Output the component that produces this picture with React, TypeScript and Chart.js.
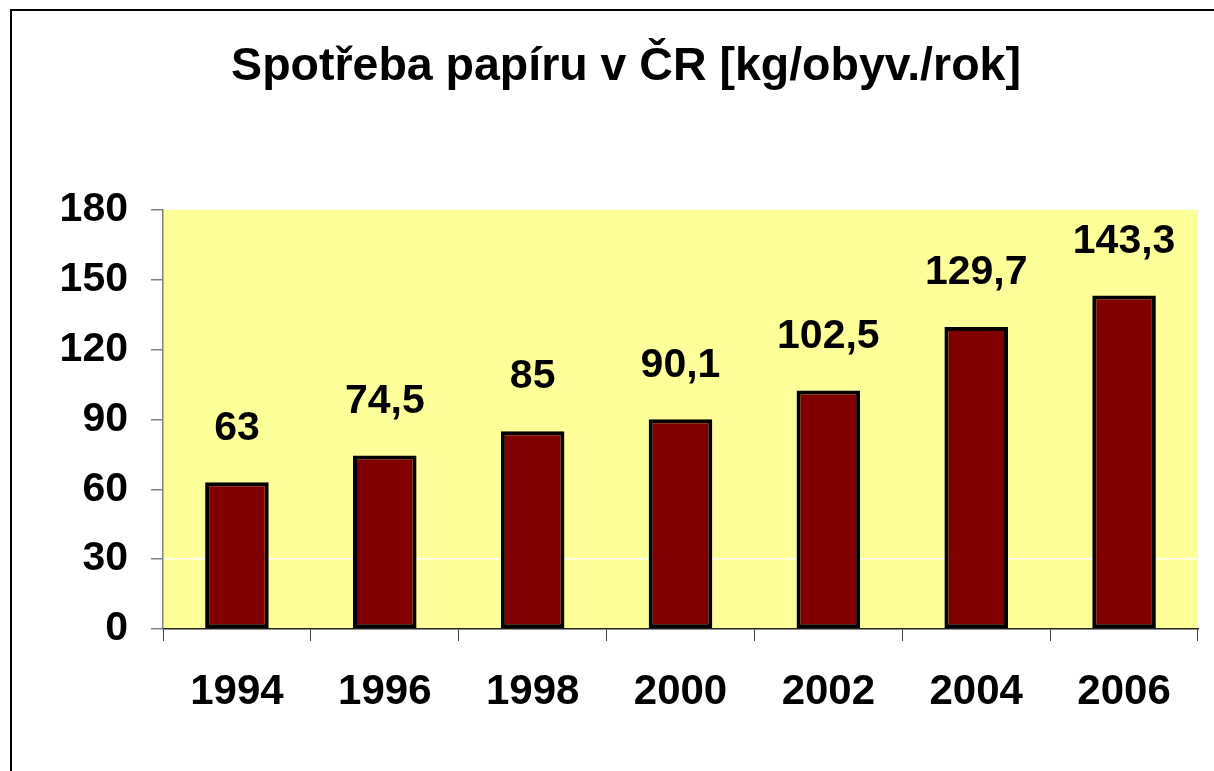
import React, { useEffect, useRef } from "react";
import { Chart, registerables } from "chart.js";

Chart.register(...registerables);

const TITLE = "Spotřeba papíru v ČR [kg/obyv./rok]";
const YEARS = ["1994", "1996", "1998", "2000", "2002", "2004", "2006"];
const VALUES = [63, 74.5, 85, 90.1, 102.5, 129.7, 143.3];
const Y_MIN = 0;
const Y_MAX = 180;
const Y_STEP = 30;

const FONT = "'Liberation Sans', Arial, sans-serif";

export default function App() {
  const ref = useRef<HTMLCanvasElement | null>(null);

  useEffect(() => {
    const canvas = ref.current;
    if (!canvas) return;

    const decor = {
      id: "decor",
      beforeDraw(chart: any) {
        const { ctx, chartArea } = chart;
        ctx.save();
        ctx.fillStyle = "#ffffff";
        ctx.fillRect(0, 0, chart.width, chart.height);
        ctx.fillStyle = "#FFFF99";
        ctx.fillRect(
          chartArea.left,
          chartArea.top,
          chartArea.right - chartArea.left,
          chartArea.bottom - chartArea.top
        );
        // outer frame (top and left visible)
        ctx.strokeStyle = "#000000";
        ctx.lineWidth = 2;
        ctx.beginPath();
        ctx.moveTo(11, chart.height + 5);
        ctx.lineTo(11, 10);
        ctx.lineTo(chart.width + 5, 10);
        ctx.stroke();
        // title
        ctx.fillStyle = "#000000";
        ctx.font = `bold 46.5px ${FONT}`;
        ctx.textAlign = "center";
        ctx.textBaseline = "alphabetic";
        ctx.fillText(TITLE, 626, 80);
        ctx.restore();
      },
      afterDatasetsDraw(chart: any) {
        const { ctx } = chart;
        const meta = chart.getDatasetMeta(0);
        ctx.save();
        ctx.fillStyle = "#000000";
        ctx.font = `bold 41px ${FONT}`;
        ctx.textAlign = "center";
        ctx.textBaseline = "middle";
        meta.data.forEach((el: any, i: number) => {
          const txt = String(VALUES[i]).replace(".", ",");
          ctx.fillText(txt, el.x, el.y - 54);
        });
        ctx.restore();
      },
    };

    const chart = new Chart(canvas, {
      type: "bar",
      data: {
        labels: YEARS,
        datasets: [
          {
            data: VALUES,
            backgroundColor: "#800000",
            borderColor: "#000000",
            borderWidth: 4,
            borderSkipped: false,
            barPercentage: 0.43,
            categoryPercentage: 1,
          },
        ],
      },
      options: {
        responsive: false,
        animation: false,
        layout: { padding: { top: 210, right: 16, left: 0, bottom: 0 } },
        plugins: {
          legend: { display: false },
          title: { display: false },
          tooltip: { enabled: false },
        },
        scales: {
          x: {
            offset: true,
            grid: {
              offset: true,
              color: "transparent",
              tickColor: "#404040",
              tickLength: 12,
              lineWidth: 1,
            },
            border: { color: "#202020", width: 1.5 },
            ticks: {
              color: "#000000",
              font: { family: FONT, size: 42, weight: "bold" },
              padding: 26,
              maxRotation: 0,
              autoSkip: false,
            },
            afterFit(scale: any) {
              scale.height = 142;
            },
          },
          y: {
            min: Y_MIN,
            max: Y_MAX,
            grid: {
              color: (c: any) =>
                c.tick && c.tick.value === 30 ? "#ffffff" : "transparent",
              tickColor: "#808080",
              tickLength: 12,
              lineWidth: 1.5,
            },
            border: { color: "#808080", width: 1.5 },
            ticks: {
              stepSize: Y_STEP,
              color: "#000000",
              font: { family: FONT, size: 41, weight: "bold" },
              padding: 23,
            },
            afterFit(scale: any) {
              scale.width = 163;
            },
          },
        },
      },
      plugins: [decor],
    });

    return () => chart.destroy();
  }, []);

  return (
    <div
      style={{
        position: "fixed",
        left: 0,
        top: 0,
        width: 1214,
        height: 771,
        background: "#ffffff",
      }}
    >
      <canvas ref={ref} width={1214} height={771} style={{ display: "block" }} />
    </div>
  );
}
